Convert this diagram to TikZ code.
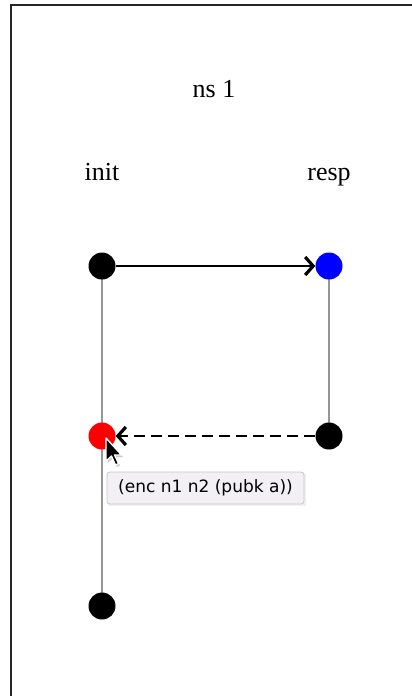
\documentclass[tikz,border=0pt]{standalone}
\usepackage{fontspec}
\setmainfont{Liberation Serif}
\newfontfamily\tipfont{DejaVu Sans}
\usetikzlibrary{arrows.meta,backgrounds}
\definecolor{lifegray}{RGB}{150,150,150}
\definecolor{tipfill}{RGB}{242,240,244}
\definecolor{tipedge}{RGB}{200,198,202}
\begin{document}
\begin{tikzpicture}[x=1pt,y=-1pt,
  dot/.style={circle, inner sep=0pt, minimum size=27pt},
  lifeline/.style={draw=lifegray, line width=2.2pt},
  msg/.style={line width=2.2pt, -{Straight Barb[length=8pt,width=18pt,line width=3.2pt]}},
  lbl/.style={font=\fontsize{26}{30}\selectfont, anchor=base, inner sep=0pt},
  tipbox/.style={draw=tipedge, fill=tipfill, rounded corners=3pt, line width=0.8pt,
     minimum width=197pt, minimum height=32pt, inner sep=0pt,
     font=\tipfont\fontsize{17}{20}\selectfont}
]
\useasboundingbox (0,0) rectangle (412,696);
% frame
\draw[line width=2pt, black!85] (10.5,696) -- (10.5,4.5) -- (412,4.5);
% titles
\node[lbl] (title) at (214,97.5) {ns 1};
\node[lbl] (init) at (102,180) {init};
\node[lbl] (resp) at (329,180) {resp};
% strand nodes
\node[dot, fill=black] (i1) at (102,266) {};
\node[dot, fill=red]   (i2) at (102,436) {};
\node[dot, fill=black] (i3) at (102,606) {};
\node[dot, fill=blue]  (r1) at (329,266) {};
\node[dot, fill=black] (r2) at (329,436) {};
% lifelines
\begin{scope}[on background layer]
\draw[lifeline] (i1.center) -- (i3.center);
\draw[lifeline] (r1.center) -- (r2.center);
\end{scope}
% messages
\draw[msg] (i1) -- (r1);
\draw[msg, dash pattern=on 11pt off 6pt] (r2) -- (i2);
% tooltip
\fill[black!6] (107.5,473.5) rectangle (305.5,505.5);
\node[tipbox] (tt) at (205.5,488) {(enc n1 n2 (pubk a))};
% mouse cursor
\begin{scope}[shift={(106,438)}]
\fill[black!20] (1.5,2) -- (1.5,25) -- (7,20) -- (11,29) -- (14,27.5) -- (10,19) -- (17,19) -- cycle;
\filldraw[fill=black, draw=white, line width=1.3pt, line join=round]
  (0,0) -- (0,23) -- (5.5,18) -- (9.5,27) -- (12.5,25.5) -- (8.5,17) -- (15.5,17) -- cycle;
\end{scope}
\end{tikzpicture}
\end{document}
